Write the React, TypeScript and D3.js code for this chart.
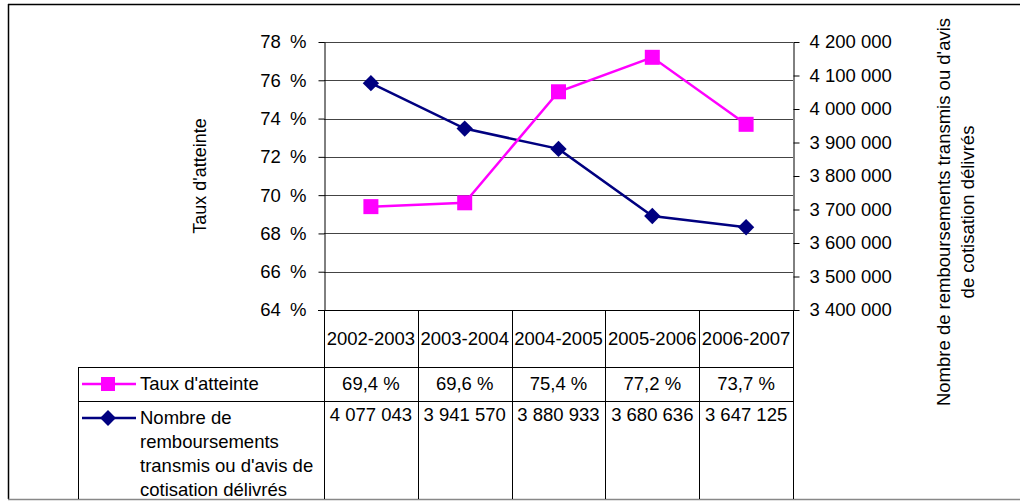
import * as d3 from "d3";
import { useEffect, useRef } from "react";

// données
const periodes = ["2002-2003", "2003-2004", "2004-2005", "2005-2006", "2006-2007"];
const tauxAtteinte = [69.4, 69.6, 75.4, 77.2, 73.7];
const nombreRemb = [4077043, 3941570, 3880933, 3680636, 3647125];
const tauxTicks = [64, 66, 68, 70, 72, 74, 76, 78];
const nombreTicks = [3400000, 3500000, 3600000, 3700000, 3800000, 3900000, 4000000, 4100000, 4200000];
const serieTaux = "Taux d'atteinte";
const serieNombre = ["Nombre de", "remboursements", "transmis ou d'avis de", "cotisation délivrés"];
const titreDroite = ["Nombre de remboursements transmis ou d'avis", "de cotisation délivrés"];

const W = 1020;
const H = 501;
const FONT = "'Liberation Sans', Arial, sans-serif";
const PINK = "#ff00ff";
const NAVY = "#000080";
const FS = 18.5;

const App = () => {
  const ref = useRef<SVGSVGElement>(null);

  useEffect(() => {
    const svg = d3.select(ref.current);
    svg.selectAll("*").remove();

    const plot = { left: 324, right: 793, top: 42, bottom: 310 };
    const row1 = 367;
    const row2 = 401;
    const tableBottom = 499;
    const legendLeft = 78;

    const x = d3.scaleBand().domain(periodes).range([plot.left, plot.right]);
    const yL = d3.scaleLinear().domain([64, 78]).range([plot.bottom, plot.top]);
    const yR = d3.scaleLinear().domain([3400000, 4200000]).range([plot.bottom, plot.top]);
    const cx = (d: string) => (x(d) as number) + x.bandwidth() / 2;
    const fmtNombre = (v: number) => d3.format(",")(v).replace(/,/g, " ");
    const fmtTaux = (v: number) => v.toFixed(1).replace(".", ",") + " %";

    // cadre extérieur
    svg.append("line").attr("x1", 8).attr("x2", W).attr("y1", 4.5).attr("y2", 4.5)
      .attr("stroke", "#000").attr("stroke-width", 1.5);
    svg.append("line").attr("x1", 8.5).attr("x2", 8.5).attr("y1", 4).attr("y2", tableBottom)
      .attr("stroke", "#000").attr("stroke-width", 1.5);
    svg.append("line").attr("x1", 8).attr("x2", W).attr("y1", tableBottom + 0.5).attr("y2", tableBottom + 0.5)
      .attr("stroke", "#888").attr("stroke-width", 1.5);

    // quadrillage
    svg.append("g").selectAll("line")
      .data(tauxTicks.filter(t => t > 64))
      .enter().append("line")
      .attr("x1", plot.left).attr("x2", plot.right)
      .attr("y1", d => Math.round(yL(d)) + 0.5).attr("y2", d => Math.round(yL(d)) + 0.5)
      .attr("stroke", "#444");

    // axes
    const axisL = d3.axisLeft(yL).tickValues(tauxTicks).tickSize(6).tickSizeOuter(0).tickPadding(12)
      .tickFormat(d => `${d}\u2002%`);
    const gL = svg.append("g").attr("transform", `translate(${plot.left + 0.5},0)`).call(axisL);
    const axisR = d3.axisRight(yR).tickValues(nombreTicks).tickSize(6).tickSizeOuter(0).tickPadding(10)
      .tickFormat(d => fmtNombre(d as number));
    const gR = svg.append("g").attr("transform", `translate(${plot.right + 0.5},0)`).call(axisR);
    [gL, gR].forEach(g => {
      g.selectAll("text").attr("font-family", FONT).attr("font-size", FS).attr("fill", "#000");
      g.selectAll("line, path").attr("stroke", "#000");
    });

    // titres des axes
    svg.append("text")
      .attr("transform", `translate(206,${(plot.top + plot.bottom) / 2}) rotate(-90)`)
      .attr("text-anchor", "middle").attr("font-family", FONT).attr("font-size", 18)
      .text(serieTaux);
    const tR = svg.append("text")
      .attr("transform", `translate(950,212) rotate(-90)`)
      .attr("text-anchor", "middle").attr("font-family", FONT).attr("font-size", FS);
    titreDroite.forEach((t, i) => tR.append("tspan").attr("x", 0).attr("dy", i === 0 ? 0 : 24).text(t));

    // tableau
    const tbl = svg.append("g").attr("stroke", "#000").attr("stroke-width", 1);
    tbl.append("line").attr("x1", plot.left - 6).attr("x2", plot.right + 6)
      .attr("y1", plot.bottom + 0.5).attr("y2", plot.bottom + 0.5);
    [row1, row2].forEach(y => tbl.append("line").attr("x1", legendLeft).attr("x2", plot.right)
      .attr("y1", y + 0.5).attr("y2", y + 0.5));
    const edges = periodes.map(p => x(p) as number).concat([plot.right]);
    edges.forEach(e => tbl.append("line").attr("x1", Math.round(e) + 0.5).attr("x2", Math.round(e) + 0.5)
      .attr("y1", plot.bottom).attr("y2", tableBottom));
    tbl.append("line").attr("x1", legendLeft + 0.5).attr("x2", legendLeft + 0.5)
      .attr("y1", row1).attr("y2", tableBottom);

    const txt = svg.append("g").attr("font-family", FONT).attr("font-size", FS).attr("fill", "#000");
    periodes.forEach((p, i) => {
      txt.append("text").attr("x", cx(p)).attr("y", 345).attr("text-anchor", "middle").text(p);
      txt.append("text").attr("x", cx(p)).attr("y", 390).attr("text-anchor", "middle").text(fmtTaux(tauxAtteinte[i]));
      txt.append("text").attr("x", cx(p)).attr("y", 421).attr("text-anchor", "middle").text(fmtNombre(nombreRemb[i]));
    });

    // légende
    svg.append("line").attr("x1", 82).attr("x2", 136).attr("y1", 384).attr("y2", 384)
      .attr("stroke", PINK).attr("stroke-width", 2.5);
    svg.append("rect").attr("x", 101).attr("y", 377).attr("width", 14).attr("height", 14).attr("fill", PINK);
    txt.append("text").attr("x", 140).attr("y", 390).text(serieTaux);
    svg.append("line").attr("x1", 82).attr("x2", 136).attr("y1", 418).attr("y2", 418)
      .attr("stroke", NAVY).attr("stroke-width", 2.5);
    svg.append("path").attr("d", d3.symbol(d3.symbolDiamond2, 160)()!)
      .attr("transform", "translate(108,418)").attr("fill", NAVY);
    serieNombre.forEach((t, i) => txt.append("text").attr("x", 140).attr("y", 424 + i * 24).text(t));

    // séries
    const lineTaux = d3.line<number>().x((_, i) => cx(periodes[i])).y(d => yL(d));
    const lineNombre = d3.line<number>().x((_, i) => cx(periodes[i])).y(d => yR(d));
    svg.append("path").attr("d", lineNombre(nombreRemb)!).attr("fill", "none")
      .attr("stroke", NAVY).attr("stroke-width", 2.5);
    svg.append("path").attr("d", lineTaux(tauxAtteinte)!).attr("fill", "none")
      .attr("stroke", PINK).attr("stroke-width", 2.5);
    svg.append("g").selectAll("path").data(nombreRemb).enter().append("path")
      .attr("d", d3.symbol(d3.symbolDiamond2, 170)()!)
      .attr("transform", (d, i) => `translate(${cx(periodes[i])},${yR(d)})`)
      .attr("fill", NAVY);
    svg.append("g").selectAll("rect").data(tauxAtteinte).enter().append("rect")
      .attr("x", (_, i) => cx(periodes[i]) - 7.5).attr("y", d => yL(d) - 7.5)
      .attr("width", 15).attr("height", 15).attr("fill", PINK);
  }, []);

  return (
    <svg ref={ref} width={W} height={H}
      style={{ position: "absolute", left: 0, top: 0, background: "#fff" }} />
  );
};

export default App;
